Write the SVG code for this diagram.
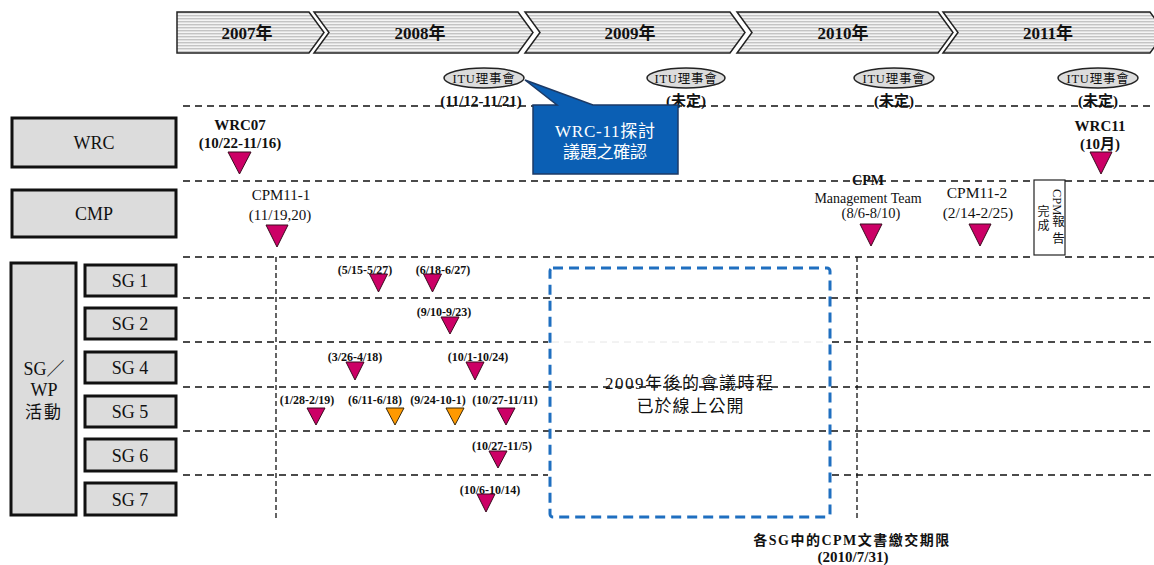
<svg xmlns="http://www.w3.org/2000/svg" width="1154" height="565" viewBox="0 0 1154 565">
  <defs>
    <pattern id="stripes" patternUnits="userSpaceOnUse" width="6" height="3">
      <rect x="0" y="0" width="6" height="3" fill="#f4f4f4"/>
      <rect x="0" y="0" width="6" height="1.4" fill="#c4c4c4"/>
    </pattern>
    <style>
      .serif { font-family: "Liberation Serif", "Noto Sans CJK TC", serif; fill: #111; }
      .b { font-weight: bold; }
      .year { font-size: 17px; font-weight: bold; text-anchor: middle; }
      .chev { fill: url(#stripes); stroke: #222; stroke-width: 1.5; }
      .label { fill: #dcdcdc; stroke: #111; stroke-width: 3; }
      .lbltxt { font-size: 18px; text-anchor: middle; }
      .dash { stroke: #111; stroke-width: 1.3; stroke-dasharray: 7 5; fill: none; }
      .vdash { stroke: #111; stroke-width: 1.3; stroke-dasharray: 5 3; fill: none; }
      .itu { fill: #dcdcdc; stroke: #222; stroke-width: 1.5; }
      .tri { fill: #cc0066; stroke: #3a0a1e; stroke-width: 1; }
      .tri-o { fill: #ff9900; stroke: #3a2a0a; stroke-width: 1; }
      .date { font-size: 12px; font-weight: bold; text-anchor: middle; }
      .mid { text-anchor: middle; }
    </style>
  </defs>

  <rect width="1154" height="565" fill="#ffffff"/>

  <!-- year banner -->
  <g id="years">
    <path class="chev" d="M177,12 L309,12 L324,32.5 L309,53 L177,53 Z"/>
    <path class="chev" d="M314,12 L518,12 L533,32.5 L518,53 L314,53 L329,32.5 Z"/>
    <path class="chev" d="M525,12 L730,12 L745,32.5 L730,53 L525,53 L540,32.5 Z"/>
    <path class="chev" d="M737,12 L938,12 L953,32.5 L938,53 L737,53 L752,32.5 Z"/>
    <path class="chev" d="M943,12 L1150,12 L1165,32.5 L1150,53 L943,53 L958,32.5 Z"/>
    <text class="serif year" x="247" y="39">2007年</text>
    <text class="serif year" x="420" y="39">2008年</text>
    <text class="serif year" x="630" y="39">2009年</text>
    <text class="serif year" x="843" y="39">2010年</text>
    <text class="serif year" x="1048" y="39">2011年</text>
  </g>

  <!-- grid lines -->
  <g id="connectors">
    <line class="dash" x1="183" y1="106" x2="1154" y2="106"/>
    <line class="dash" x1="183" y1="181" x2="1034" y2="181"/>
    <line class="dash" x1="1065" y1="181" x2="1154" y2="181"/>
    <line class="dash" x1="183" y1="257" x2="1034" y2="257"/>
    <line class="dash" x1="1065" y1="257" x2="1154" y2="257"/>
    <line class="dash" x1="183" y1="298" x2="1154" y2="298"/>
    <line class="dash" x1="183" y1="342" x2="548" y2="342"/>
    <line x1="552" y1="342" x2="828" y2="342" stroke="#e6e6e6" stroke-width="1" stroke-dasharray="7 5"/>
    <line class="dash" x1="832" y1="342" x2="1154" y2="342"/>
    <line class="dash" x1="183" y1="387" x2="1154" y2="387"/>
    <line class="dash" x1="183" y1="431" x2="1154" y2="431"/>
    <line class="dash" x1="183" y1="475" x2="548" y2="475"/>
    <line class="dash" x1="832" y1="475" x2="1154" y2="475"/>
    <line class="vdash" x1="276" y1="257" x2="276" y2="520"/>
    <line class="vdash" x1="857" y1="257" x2="857" y2="520"/>
  </g>

  <!-- ITU council meetings -->
  <g id="itu-2008">
    <ellipse class="itu" cx="484" cy="78" rx="40" ry="10"/>
    <text class="serif mid" x="484" y="82.5" font-size="12.5" letter-spacing="0.8">ITU理事會</text>
    <text class="serif b mid" x="481" y="106" font-size="15">(11/12-11/21)</text>
  </g>
  <g id="itu-2009">
    <ellipse class="itu" cx="686" cy="78" rx="39" ry="10"/>
    <text class="serif mid" x="686" y="82.5" font-size="12.5" letter-spacing="0.8">ITU理事會</text>
    <text class="serif b mid" x="686" y="106" font-size="15">(未定)</text>
  </g>
  <g id="itu-2010">
    <ellipse class="itu" cx="894" cy="78" rx="40" ry="10"/>
    <text class="serif mid" x="894" y="82.5" font-size="12.5" letter-spacing="0.8">ITU理事會</text>
    <text class="serif b mid" x="894" y="106" font-size="15">(未定)</text>
  </g>
  <g id="itu-2011">
    <ellipse class="itu" cx="1098" cy="78" rx="40" ry="10"/>
    <text class="serif mid" x="1098" y="82.5" font-size="12.5" letter-spacing="0.8">ITU理事會</text>
    <text class="serif b mid" x="1098" y="106" font-size="15">(未定)</text>
  </g>

  <!-- callout -->
  <g id="callout">
    <path d="M533,105 L557,105 L525,80 L593,105 L678,105 L678,174 L533,174 Z" fill="#0b5fb4" stroke="#1c3a66" stroke-width="1.5"/>
    <text x="605" y="137" font-family="Liberation Serif, Noto Sans CJK TC, serif" font-size="17" fill="#ffffff" text-anchor="middle" textLength="100" lengthAdjust="spacing">WRC-11探討</text>
    <text x="605" y="158" font-family="Liberation Serif, Noto Sans CJK TC, serif" font-size="17" fill="#ffffff" text-anchor="middle" textLength="84" lengthAdjust="spacing">議題之確認</text>
  </g>

  <!-- row labels -->
  <g id="wrc-label">
    <rect class="label" x="12" y="118" width="164" height="49"/>
    <text class="serif lbltxt" x="94" y="149">WRC</text>
  </g>
  <g id="cmp-label">
    <rect class="label" x="12" y="190" width="164" height="47"/>
    <text class="serif lbltxt" x="94" y="220">CMP</text>
  </g>
  <g id="sgwp-label">
    <rect class="label" x="11" y="263" width="65" height="252"/>
    <text class="serif mid" x="44" y="375" font-size="18">SG／</text>
    <text class="serif mid" x="44" y="396" font-size="18">WP</text>
    <text class="serif mid" x="44" y="418" font-size="17" letter-spacing="2">活動</text>
  </g>
  <g id="sg1">
    <rect class="label" x="85" y="265" width="91" height="31"/>
    <text class="serif lbltxt" x="130" y="287" font-size="17">SG 1</text>
  </g>
  <g id="sg2">
    <rect class="label" x="85" y="308" width="91" height="31"/>
    <text class="serif lbltxt" x="130" y="330" font-size="17">SG 2</text>
  </g>
  <g id="sg4">
    <rect class="label" x="85" y="352" width="91" height="31"/>
    <text class="serif lbltxt" x="130" y="374" font-size="17">SG 4</text>
  </g>
  <g id="sg5">
    <rect class="label" x="85" y="396" width="91" height="31"/>
    <text class="serif lbltxt" x="130" y="418" font-size="17">SG 5</text>
  </g>
  <g id="sg6">
    <rect class="label" x="85" y="439" width="91" height="32"/>
    <text class="serif lbltxt" x="130" y="462" font-size="17">SG 6</text>
  </g>
  <g id="sg7">
    <rect class="label" x="85" y="483" width="91" height="32"/>
    <text class="serif lbltxt" x="130" y="506" font-size="17">SG 7</text>
  </g>

  <!-- WRC events -->
  <g id="wrc07">
    <text class="serif b mid" x="240" y="130" font-size="15">WRC07</text>
    <text class="serif b mid" x="240" y="148" font-size="15">(10/22-11/16)</text>
    <polygon class="tri" points="228,152 251,152 239.5,174"/>
  </g>
  <g id="wrc11">
    <text class="serif b mid" x="1100" y="131" font-size="15">WRC11</text>
    <text class="serif b mid" x="1100" y="149" font-size="15">(10月)</text>
    <polygon class="tri" points="1090,152 1112,152 1101,174"/>
  </g>

  <!-- CPM events -->
  <g id="cpm11-1">
    <text class="serif mid" x="281" y="200" font-size="15">CPM11-1</text>
    <text class="serif mid" x="280" y="220" font-size="15">(11/19,20)</text>
    <polygon class="tri" points="266,225 288,225 277,247"/>
  </g>
  <g id="cpm-mgmt">
    <text class="serif b mid" x="868" y="185" font-size="14">CPM</text>
    <text class="serif mid" x="868" y="203" font-size="14">Management Team</text>
    <text class="serif mid" x="871" y="218" font-size="14.5">(8/6-8/10)</text>
    <polygon class="tri" points="860,224 882,224 871,246"/>
  </g>
  <g id="cpm11-2">
    <text class="serif mid" x="977" y="198" font-size="15.5">CPM11-2</text>
    <text class="serif mid" x="978" y="218" font-size="15.5">(2/14-2/25)</text>
    <polygon class="tri" points="969,224 991,224 980,246"/>
  </g>
  <g id="cpm-report">
    <rect x="1034" y="180" width="31" height="75" fill="#ffffff" stroke="#222" stroke-width="1.2"/>
    <text class="serif" x="1057" y="189" font-size="12.5" writing-mode="vertical-rl">CPM<tspan letter-spacing="4">報告</tspan></text>
    <text class="serif" x="1042" y="205" font-size="12" writing-mode="vertical-rl" letter-spacing="2">完成</text>
  </g>

  <!-- SG meetings -->
  <g id="sg1-meetings">
    <text class="serif date" x="365" y="274">(5/15-5/27)</text>
    <polygon class="tri" points="369.5,274 387.5,274 378.5,292"/>
    <text class="serif date" x="443" y="274">(6/18-6/27)</text>
    <polygon class="tri" points="423.5,274 441.5,274 432.5,292"/>
  </g>
  <g id="sg2-meetings">
    <text class="serif date" x="444" y="316">(9/10-9/23)</text>
    <polygon class="tri" points="441,317 459,317 450,334"/>
  </g>
  <g id="sg4-meetings">
    <text class="serif date" x="355" y="361">(3/26-4/18)</text>
    <polygon class="tri" points="346,362 364,362 355,380"/>
    <text class="serif date" x="478" y="361">(10/1-10/24)</text>
    <polygon class="tri" points="466,362 484,362 475,380"/>
  </g>
  <g id="sg5-meetings">
    <text class="serif date" x="307" y="404">(1/28-2/19)</text>
    <polygon class="tri" points="307,408 325,408 316,425"/>
    <text class="serif date" x="375" y="404">(6/11-6/18)</text>
    <polygon class="tri-o" points="386,408 404,408 395,425"/>
    <text class="serif date" x="438" y="404">(9/24-10-1)</text>
    <polygon class="tri-o" points="446,408 464,408 455,425"/>
    <text class="serif date" x="505" y="404">(10/27-11/11)</text>
    <polygon class="tri" points="497,408 515,408 506,425"/>
  </g>
  <g id="sg6-meetings">
    <text class="serif date" x="502" y="450">(10/27-11/5)</text>
    <polygon class="tri" points="489,451 507,451 498,468"/>
  </g>
  <g id="sg7-meetings">
    <text class="serif date" x="490" y="494">(10/6-10/14)</text>
    <polygon class="tri" points="477,494 495,494 486,512"/>
  </g>

  <!-- post-2009 notice -->
  <g id="future-box">
    <rect x="550" y="268" width="280" height="249" rx="3" fill="none" stroke="#1f6fc0" stroke-width="3" stroke-dasharray="10 6"/>
    <text class="serif mid" x="689" y="389" font-size="17" textLength="168" lengthAdjust="spacing">2009年後的會議時程</text>
    <text class="serif mid" x="690" y="412" font-size="17" textLength="107" lengthAdjust="spacing">已於線上公開</text>
  </g>

  <!-- deadline note -->
  <g id="deadline">
    <text class="serif b mid" x="852" y="545" font-size="14" letter-spacing="1.5">各SG中的CPM文書繳交期限</text>
    <text class="serif b mid" x="853" y="562" font-size="15">(2010/7/31)</text>
  </g>
</svg>
